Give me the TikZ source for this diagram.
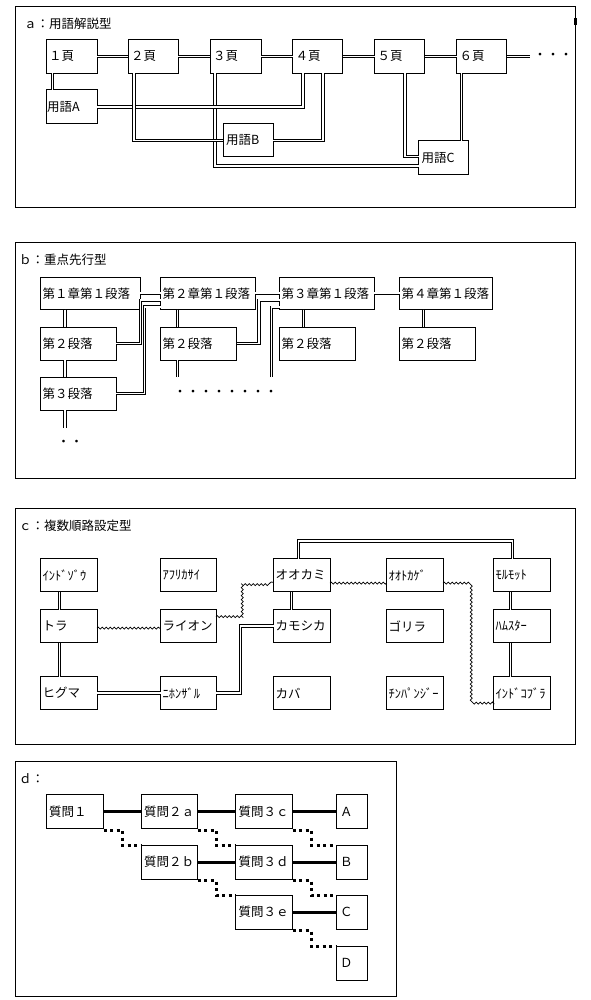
\documentclass[tikz,border=0pt]{standalone}
\usepackage{fontspec}
\newfontfamily\jp{Noto Sans CJK JP}
\usetikzlibrary{decorations.pathmorphing}
\newcommand\bx[7][2.5]{%
  \pgfmathsetmacro\bxtw{#5-2*#1}%
  \node[box, inner xsep=#1pt, text width=\bxtw pt, minimum height=#6pt] (#2) at (#3,#4) {#7};}
\begin{document}
\begin{tikzpicture}[x=1pt,y=-1pt,
  every node/.style={font=\jp\fontsize{12.5pt}{14pt}\selectfont},
  frame/.style={draw, line width=1pt},
  box/.style={draw, line width=1pt, anchor=north west, inner ysep=0pt, outer sep=0pt, align=left},
  dbl/.style={double, line width=0.9pt, double distance=1.6pt},
  wavy/.style={line width=0.8pt, decorate, decoration={snake, segment length=4pt, amplitude=1pt}},
  thk/.style={line width=3pt},
  dotl/.style={line width=3pt, dash pattern=on 3pt off 3.5pt},
  ttl/.style={anchor=west, inner sep=0pt},
  dots/.style={anchor=west, inner sep=0pt, font=\jp\fontsize{13pt}{14pt}\selectfont}
]
\fill[white] (0,0) rectangle (590,1000);
\useasboundingbox (0,0) rectangle (590,1000);

% ---------------- panel a ----------------
\draw[frame] (15.5,6.5) rectangle (575.5,208);
\draw[line width=0.8pt] (574.3,18.5) rectangle (576.5,24);
\node[ttl] (ta) at (24,23.3) {ａ：用語解説型};
\bx[3]{p1}{46}{39.5}{51}{34}{１頁}
\bx[3]{p2}{128}{39.5}{50}{34}{２頁}
\bx[3]{p3}{210}{39.5}{51}{34}{３頁}
\bx[3]{p4}{292.5}{39.5}{50}{34}{４頁}
\bx[3]{p5}{374.5}{39.5}{50}{34}{５頁}
\bx[3]{p6}{456.5}{39.5}{50}{34}{６頁}
\bx[1]{tA}{46}{90}{51}{34}{用語A}
\bx[3]{tB}{223}{124}{50}{33}{用語B}
\bx[3]{tC}{418.5}{141}{50}{33.5}{用語C}
\coordinate (aend) at (530,56.5);
\node[dots] (adots) at (533.5,56.5) {・・・};
\draw[dbl] (p1.east) -- (p2.west);
\draw[dbl] (p2.east) -- (p3.west);
\draw[dbl] (p3.east) -- (p4.west);
\draw[dbl] (p4.east) -- (p5.west);
\draw[dbl] (p5.east) -- (p6.west);
\draw[dbl] (p6.east) -- (aend);
\draw[dbl] ([xshift=6.5pt]p1.south west) -- ([xshift=6.5pt]tA.north west);
\draw[dbl] ([xshift=5pt]p3.south west) |- ([yshift=-25pt]tC.north west);
\draw[dbl] (tA.east) -| ([xshift=10.5pt]p4.south west);
\draw[dbl] ([xshift=6pt]p2.south west) |- (tB.west);
\draw[dbl] (tB.east) -| ([xshift=30.5pt]p4.south west);
\draw[dbl] ([xshift=30.5pt]p5.south west) |- ([yshift=-15.5pt]tC.north west);
\draw[dbl] ([xshift=5pt]p6.south west) -- ([xshift=5pt]p6.south west |- tC.north);

% ---------------- panel b ----------------
\draw[frame] (15.5,242.5) rectangle (575.5,478.5);
\node[ttl] (tb) at (19,260) {ｂ：重点先行型};
\bx[2]{h1}{40.5}{277}{99.5}{32.5}{第１章第１段落}
\bx[2]{s12}{40.5}{327}{75.5}{33}{第２段落}
\bx[2]{s13}{40.5}{377}{75.5}{33}{第３段落}
\bx[2]{h2}{160.5}{277}{94.5}{32.5}{第２章第１段落}
\bx[2]{s22}{160.5}{327}{76}{33}{第２段落}
\bx[2]{h3}{279.5}{277}{94.5}{32.5}{第３章第１段落}
\bx[2]{s32}{279.5}{327}{76}{33}{第２段落}
\bx[2]{h4}{399.5}{277}{93}{32.5}{第４章第１段落}
\bx[2]{s42}{399.5}{327}{75.5}{33}{第２段落}
\coordinate (b1end) at (65,428);
\coordinate (b2end) at (177.5,377);
\coordinate (b3end) at (271.5,377);
\node[dots] (bdots1) at (57,443) {・・};
\node[dots] (bdots2) at (173.5,393) {・・・・・・・・};
\draw[dbl] (h1.east) -- (h2.west);
\draw[dbl] (h2.east) -- (h3.west);
\draw[dbl] (h3.east) -- (h4.west);
\draw[dbl] ([xshift=24.5pt]h1.south west) -- ([xshift=24.5pt]s12.north west);
\draw[dbl] ([xshift=24.5pt]s12.south west) -- ([xshift=24.5pt]s13.north west);
\draw[dbl] ([xshift=24.5pt]s13.south west) -- (b1end);
\draw[dbl] (s12.east) -| ([xshift=-20pt,yshift=-7pt]h2.west) -- ([yshift=-7pt]h2.west);
\draw[dbl] (s13.east) -| ([xshift=-16pt,yshift=-13.5pt]h2.west) -- ([yshift=-13.5pt]h2.west);
\draw[dbl] ([xshift=17pt]h2.south west) -- ([xshift=17pt]s22.north west);
\draw[dbl] ([xshift=17pt]s22.south west) -- (b2end);
\draw[dbl] (s22.east) -| ([xshift=-20.5pt,yshift=-7pt]h3.west) -- ([yshift=-7pt]h3.west);
\draw[dbl] (b3end) |- ([yshift=-14pt]h3.west);
\draw[dbl] ([xshift=24pt]h3.south west) -- ([xshift=24pt]s32.north west);
\draw[dbl] ([xshift=24pt]h4.south west) -- ([xshift=24pt]s42.north west);

% ---------------- panel c ----------------
\draw[frame] (15.5,508.5) rectangle (575.5,744);
\node[ttl] (tc) at (19,525.7) {ｃ：複数順路設定型};
\bx[2]{c11}{40.5}{558.5}{56.5}{33.3}{ｲﾝﾄﾞｿﾞｳ}
\bx[2]{c12}{160.5}{558.5}{55.5}{33.3}{ｱﾌﾘｶｻｲ}
\bx[2]{c13}{273.5}{558.5}{56.5}{33.3}{オオカミ}
\bx[2]{c14}{386.5}{558.5}{56.5}{33.3}{ｵｵﾄｶｹﾞ}
\bx[2]{c15}{493.5}{558.5}{56.5}{33.3}{ﾓﾙﾓｯﾄ}
\bx[2]{c21}{40.5}{609.5}{56.5}{33.3}{トラ}
\bx[2]{c22}{160.5}{609.5}{55.5}{33.3}{ライオン}
\bx[2]{c23}{273.5}{609.5}{56.5}{33.3}{カモシカ}
\bx[2]{c24}{386.5}{609.5}{56.5}{33.3}{ゴリラ}
\bx[2]{c25}{493.5}{609.5}{56.5}{33.3}{ﾊﾑｽﾀｰ}
\bx[2]{c31}{40.5}{676.5}{56.5}{33.3}{ヒグマ}
\bx[2]{c32}{160.5}{676.5}{55.5}{33.3}{ﾆﾎﾝｻﾞﾙ}
\bx[2]{c33}{273.5}{676.5}{56.5}{33.3}{カバ}
\bx[2]{c34}{386.5}{676.5}{56.5}{33.3}{ﾁﾝﾊﾟﾝｼﾞｰ}
\bx[2]{c35}{493.5}{676.5}{56.5}{33.3}{ｲﾝﾄﾞｺﾌﾞﾗ}
\draw[dbl] ([xshift=19pt]c11.south west) -- ([xshift=19pt]c21.north west);
\draw[dbl] ([xshift=19pt]c21.south west) -- ([xshift=19pt]c31.north west);
\draw[dbl] (c31.east) -- (c32.west);
\draw[dbl] (c32.east) -| ([xshift=-33pt]c23.west) -- (c23.west);
\draw[dbl] ([xshift=18pt]c13.south west) -- ([xshift=18pt]c23.north west);
\draw[dbl] ([xshift=25pt]c13.north west) -- ++(0,-17.5) coordinate (ctop) -| ([xshift=19pt]c15.north west);
\draw[dbl] ([xshift=17pt]c15.south west) -- ([xshift=17pt]c25.north west);
\draw[dbl] ([xshift=17pt]c25.south west) -- ([xshift=17pt]c35.north west);
\draw[wavy] ([yshift=-2pt]c21.east) -- ([yshift=-2pt]c22.west);
\draw[wavy] ([yshift=9.5pt]c22.east) -| ([xshift=-32pt,yshift=-7pt]c13.west) -- ([yshift=-7pt]c13.west);
\draw[wavy] ([yshift=-8pt]c13.east) -- ([yshift=-8pt]c14.west);
\draw[wavy] ([yshift=-8pt]c14.east) -| ([xshift=-25pt,yshift=-8.5pt]c35.west) -- ([yshift=-8.5pt]c35.west);

% ---------------- panel d ----------------
\draw[frame] (15.5,761.5) rectangle (396,996.5);
\node[ttl] (td) at (19,778.3) {ｄ：};
\bx[3]{q1}{46}{794.5}{57.5}{34}{質問１}
\bx[3]{q2a}{141}{794.5}{56.5}{34}{質問２ａ}
\bx[3]{q3c}{235.5}{794.5}{57}{34}{質問３ｃ}
\bx[4]{dA}{336}{794.5}{31.5}{34}{Ａ}
\bx[3]{q2b}{141}{845}{56.5}{34}{質問２ｂ}
\bx[3]{q3d}{235.5}{845}{57}{34}{質問３ｄ}
\bx[4]{dB}{336}{845}{31.5}{34}{Ｂ}
\bx[3]{q3e}{235.5}{895}{57}{34}{質問３ｅ}
\bx[4]{dC}{336}{895}{31.5}{34}{Ｃ}
\bx[4]{dD}{336}{946}{31.5}{34}{Ｄ}
\draw[thk] (q1.east) -- (q2a.west);
\draw[thk] (q2a.east) -- (q3c.west);
\draw[thk] (q3c.east) -- (dA.west);
\draw[thk] (q2b.east) -- (q3d.west);
\draw[thk] (q3d.east) -- (dB.west);
\draw[thk] (q3e.east) -- (dC.west);
\draw[dotl] ([yshift=-1.5pt]q1.south east) -- ++(18.5,0) |- (q2b.north west);
\draw[dotl] ([yshift=-1.5pt]q2a.south east) -- ++(18.5,0) |- (q3d.north west);
\draw[dotl] ([yshift=-1.5pt]q3c.south east) -- ++(18.5,0) |- (dB.north west);
\draw[dotl] ([yshift=-1.5pt]q2b.south east) -- ++(18.5,0) |- (q3e.north west);
\draw[dotl] ([yshift=-1.5pt]q3d.south east) -- ++(18.5,0) |- (dC.north west);
\draw[dotl] ([yshift=-1.5pt]q3e.south east) -- ++(18.5,0) |- (dD.north west);
\end{tikzpicture}
\end{document}
